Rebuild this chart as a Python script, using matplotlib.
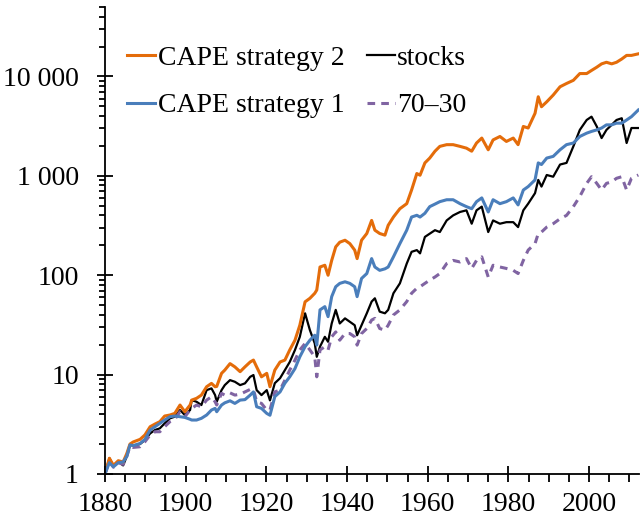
import numpy as np
import matplotlib
matplotlib.use('Agg')
import matplotlib.pyplot as plt
from matplotlib.ticker import LogLocator, NullFormatter, MultipleLocator

# years
years = [1880.0, 1881.1, 1882.1, 1883.3, 1884.5, 1885.4, 1886.2, 1887.0, 1888.7, 1889.9,
         1891.2, 1892.4, 1893.6, 1894.8, 1896.1, 1897.3, 1898.6, 1899.8,
         1901.1, 1901.5, 1902.7, 1903.9, 1905.2, 1906.4, 1907.3, 1907.7, 1908.9, 1909.7,
         1911.0, 1912.2, 1913.5, 1914.7, 1916.0, 1916.8, 1917.6, 1918.8, 1920.1,
         1920.9, 1922.1, 1923.4, 1924.6, 1925.8, 1927.1, 1928.3, 1929.6, 1930.8, 1932.0,
         1932.5, 1933.3, 1934.5, 1935.3, 1936.2, 1937.2, 1938.2, 1939.5, 1940.7, 1941.9,
         1942.5, 1943.6, 1944.9, 1946.1, 1946.9, 1948.1, 1949.4, 1950.2, 1951.5, 1953.1,
         1954.8, 1956.0, 1957.3, 1958.1,
         1959.3, 1960.5, 1961.8, 1963.0, 1964.7, 1966.3, 1968.0, 1969.6, 1970.9, 1972.1,
         1973.4, 1975.0, 1976.2, 1977.9, 1979.5, 1981.2, 1982.4, 1983.7, 1984.9, 1986.6,
         1987.4, 1988.2, 1989.5, 1991.1, 1992.8, 1994.4, 1996.1, 1997.7, 1999.4, 2000.6,
         2001.9, 2003.1, 2004.3, 2005.6, 2006.8, 2008.1, 2009.3, 2010.5, 2012.2]

cape2 = [1.0, 1.44, 1.22, 1.36, 1.32, 1.6, 2.0, 2.1, 2.23, 2.47,
         2.99, 3.18, 3.36, 3.83, 3.92, 4.07, 4.94, 4.23,
         4.94, 5.54, 5.77, 6.22, 7.55, 8.16, 7.55, 7.6, 10.3, 11.1,
         12.9, 11.96, 10.7, 11.96, 13.4, 14.0, 11.96, 9.5, 10.3,
         7.55, 11.1, 13.4, 14.0, 17.7, 22.2, 31.4, 54, 58.6, 65.8,
         71, 121, 126, 100, 141, 193, 215, 225, 208, 179,
         147, 225, 263, 356, 284, 263, 253, 318, 385, 467,
         525, 720, 1055, 1015,
         1350, 1510, 1770, 1980, 2060, 2060, 1980, 1900, 1770, 2140,
         2400, 1830, 2300, 2490, 2220, 2400, 2060, 3140, 3030, 4260,
         6250, 4960, 5560, 6500, 7880, 8500, 9150, 10700, 10700, 11500,
         12400, 13400, 13900, 13400, 13900, 15000, 16300, 16300, 16900]

cape1 = [1.0, 1.3, 1.18, 1.3, 1.32, 1.5, 1.96, 1.93, 2.03, 2.23,
         2.77, 2.99, 3.23, 3.49, 3.77, 3.83, 3.77, 3.71,
         3.55, 3.49, 3.49, 3.63, 3.92, 4.4, 4.57, 4.23, 4.94, 5.2,
         5.45, 5.13, 5.54, 5.6, 6.22, 6.7, 4.75, 4.57, 4.07,
         3.9, 6.0, 6.7, 8.2, 9.5, 11.5, 15.1, 19.1, 22.2, 24.9,
         19.8, 44.8, 48.3, 38.3, 60.9, 76.6, 82.8, 85.9, 82.8, 76.6,
         60.9, 92.8, 104, 147, 121, 112, 116, 121, 153, 208,
         284, 385, 401, 385,
         420, 490, 520, 550, 575, 575, 525, 490, 467, 550,
         600, 433, 575, 525, 550, 600, 510, 720, 780, 910,
         1350, 1300, 1510, 1570, 1830, 2060, 2140, 2490, 2690, 2800,
         2900, 3030, 3260, 3260, 3390, 3390, 3650, 3940, 4600]

stocks = [1.0, 1.44, 1.2, 1.33, 1.22, 1.5, 1.96, 1.93, 2.0, 2.2,
          2.56, 2.77, 2.88, 3.23, 3.63, 3.77, 4.4, 3.92,
          4.4, 5.54, 5.33, 4.94, 6.98, 7.27, 6.22, 5.33, 6.98, 7.84,
          8.8, 8.47, 7.84, 8.16, 9.5, 9.9, 6.98, 6.22, 6.98,
          5.5, 8.2, 9.2, 11.1, 13.4, 17.7, 24.0, 41.4, 28.0, 20.6,
          15.1, 19.1, 24.0, 21.4, 32.7, 44.8, 32.7, 36.8, 34, 31.4,
          24.9, 31.4, 41.4, 54.3, 58.6, 43, 41.4, 44.8, 65.8, 82.8,
          131, 172, 179, 166,
          243, 262, 284, 272, 356, 400, 433, 450, 330, 450,
          490, 272, 356, 330, 342, 342, 305, 450, 525, 670,
          910, 780, 1020, 980, 1300, 1350, 1980, 2900, 3650, 3940,
          3140, 2400, 2900, 3260, 3650, 3800, 2140, 3030, 3030]

mix7030 = [1.0, 1.35, 1.17, 1.3, 1.25, 1.5, 1.9, 1.85, 1.88, 2.11,
           2.47, 2.66, 2.66, 2.99, 3.36, 3.54, 4.23, 3.77,
           4.4, 4.57, 4.94, 4.75, 5.54, 5.98, 5.33, 4.94, 6.47, 6.22,
           6.55, 6.22, 6.35, 6.7, 7.1, 7.1, 5.33, 5.13, 4.4,
           4.4, 6.7, 7.0, 8.8, 11.1, 14.0, 17.7, 20.6, 17.7, 15.1,
           9.5, 17.7, 19.1, 17.7, 24.0, 26.9, 22.2, 25.9, 25.9, 24.0,
           19.8, 25.9, 29.1, 35.4, 36.8, 29.1, 28.0, 31.4, 39.8, 44.8,
           54.3, 65.8, 74, 76.6,
           82.8, 89.3, 96, 104, 131, 141, 136, 147, 117, 141,
           153, 96, 126, 121, 117, 112, 104, 141, 179, 208,
           263, 272, 305, 330, 370, 400, 490, 620, 840, 980,
           840, 720, 840, 870, 945, 980, 720, 945, 1020]

labels = ['CAPE strategy 2', 'CAPE strategy 1', 'stocks', '70\u201330']
ytick_vals = [1, 10, 100, 1000, 10000]
ytick_text = ['1', '10', '100', '1 000', '10 000']
xtick_vals = [1880, 1900, 1920, 1940, 1960, 1980, 2000]

FONT = 'Liberation Serif'
plt.rcParams['font.family'] = [FONT, 'DejaVu Serif']

fig = plt.figure(figsize=(6.4, 5.2), dpi=100)
ax = fig.add_axes([0.164, 0.0885, 0.834, 0.898])

l_stk, = ax.plot(years, stocks, color='black', lw=1.6)
l_mix, = ax.plot(years, mix7030, color='#8064A2', lw=2.2, dashes=(2.5, 2))
l_c2, = ax.plot(years, cape2, color='#E46C0A', lw=2.2)
l_c1, = ax.plot(years, cape1, color='#4A7EBB', lw=2.2)

ax.set_yscale('log')
ax.set_ylim(1, 50000)
ax.set_xlim(1880, 2012.3)

ax.set_yticks(ytick_vals)
ax.set_yticklabels(ytick_text, fontfamily=FONT, fontsize=20)
ax.set_xticks(xtick_vals)
ax.set_xticklabels([str(v) for v in xtick_vals], fontfamily=FONT, fontsize=20)
ax.yaxis.set_minor_locator(LogLocator(base=10, subs=np.arange(2, 10)))
ax.yaxis.set_minor_formatter(NullFormatter())
ax.xaxis.set_minor_locator(MultipleLocator(5))

ax.tick_params(axis='both', which='major', direction='inout', length=11.5, width=1.3)
ax.tick_params(axis='y', which='major', pad=13)
ax.tick_params(axis='x', which='major', pad=7.5)
ax.tick_params(axis='x', which='minor', direction='out', length=6, width=1.3)
ax.tick_params(axis='y', which='minor', direction='out', length=4, width=1.3)

for s in ['top', 'right']:
    ax.spines[s].set_visible(False)
for s in ['left', 'bottom']:
    ax.spines[s].set_linewidth(1.3)

leg = ax.legend([l_c2, l_c1, l_stk, l_mix], labels, ncol=2, loc='upper left',
                bbox_to_anchor=(0.042, 0.917), frameon=False, handlelength=1.0,
                handletextpad=0.1, columnspacing=0.8, labelspacing=0.78,
                borderaxespad=0, borderpad=0, prop={'family': FONT, 'size': 20})

plt.savefig('out.png', dpi=100)
